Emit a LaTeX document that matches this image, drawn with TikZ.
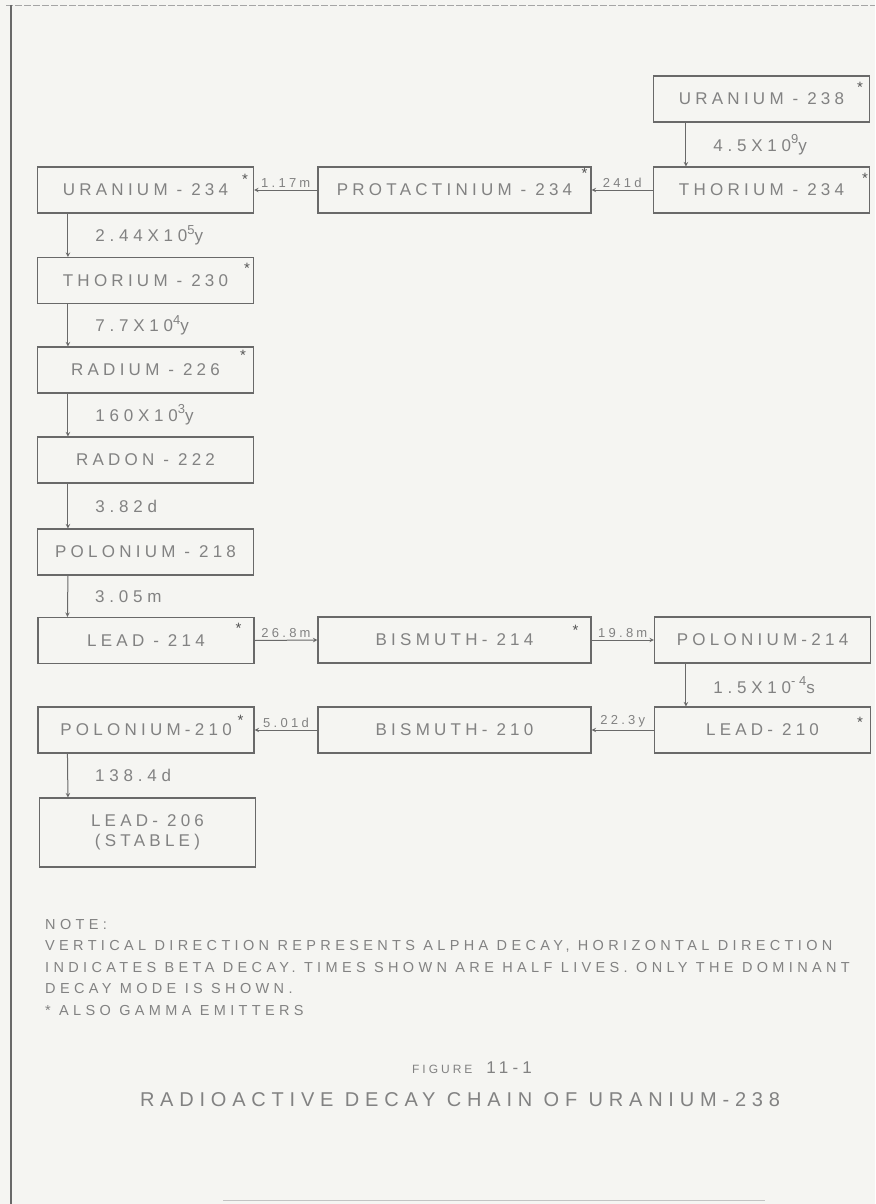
\documentclass[tikz,border=0pt]{standalone}
\usepackage{fontspec}
\setmainfont{Liberation Sans}
\newfontfamily\lettering{Liberation Sans}[LetterSpace=25]
\newcommand{\pw}[1]{\raisebox{0.45em}{\fontsize{13}{13}\selectfont #1}}
\definecolor{ink}{RGB}{105,105,105}
\definecolor{pencil}{RGB}{130,130,130}
\definecolor{paper}{RGB}{245,245,242}

\begin{document}
\begin{tikzpicture}[x=1pt, y=-1pt,
    box/.style={draw=ink, line width=1.1pt, inner sep=0pt, minimum width=216pt, minimum height=46pt,
      text=pencil, font=\lettering\fontsize{17}{20}\selectfont},
    wide/.style={minimum width=273pt},
    gam/.style={inner sep=0pt, text=ink!80!black, font=\lettering\fontsize{15}{15}\selectfont},
    decay/.style={-stealth, draw=ink, line width=1pt},
    half/.style={right=27pt, inner sep=0pt, text=pencil, font=\lettering\fontsize{17}{18}\selectfont\addfontfeature{LetterSpace=28}},
    rate/.style={above=2pt, inner sep=0pt, text=pencil, font=\lettering\fontsize{13}{14}\selectfont}]
                \fill[paper] (0,0) rectangle (875,1204);
                \useasboundingbox (0,0) rectangle (875,1204);
                \draw[ink!60, line width=0.8pt, dash pattern=on 7pt off 2pt] (6,5) -- (875,5);
                \draw[ink, line width=1.6pt] (11,5) -- (11,1204);
                \draw[ink!40, line width=0.8pt] (223,1200) -- (765,1200);

                \node[box] (u238) at (761.5,99) {URANIUM - 238};
                \node[box] (th234) at (761.5,190) {THORIUM - 234};
                \node[box, wide] (pa234) at (454.5,190) {PROTACTINIUM - 234};
                \node[box] (u234) at (145.5,190) {URANIUM - 234};
                \node[box] (th230) at (145.5,280.5) {THORIUM - 230};
                \node[box] (ra226) at (145.5,370) {RADIUM - 226};
                \node[box] (rn222) at (145.5,460) {RADON - 222};
                \node[box] (po218) at (145.5,552) {POLONIUM - 218};
                \node[box] (pb214) at (146,640.5) {LEAD - 214};
                \node[box, wide] (bi214) at (454.5,640) {BISMUTH- 214};
                \node[box] (po214) at (762.5,640) {POLONIUM-214};
                \node[box] (pb210) at (762.5,730) {LEAD- 210};
                \node[box, wide] (bi210) at (454.5,730) {BISMUTH- 210};
                \node[box] (po210) at (146,730) {POLONIUM-210};
                \node[box, minimum height=69pt, align=center] (pb206) at (147.5,832.5) {LEAD- 206\\(STABLE)};

                % gamma emitters
                \node[gam] (u238g) at ([xshift=-10pt,yshift=-12pt]u238.north east) {*};
                \node[gam] (th234g) at ([xshift=-5pt,yshift=-12pt]th234.north east) {*};
                \node[gam] (pa234g) at ([xshift=-7pt,yshift=-7pt]pa234.north east) {*};
                \node[gam] (u234g) at ([xshift=-9pt,yshift=-13pt]u234.north east) {*};
                \node[gam] (th230g) at ([xshift=-7pt,yshift=-11pt]th230.north east) {*};
                \node[gam] (ra226g) at ([xshift=-11pt,yshift=-9pt]ra226.north east) {*};
                \node[gam] (pb214g) at ([xshift=-16pt,yshift=-11pt]pb214.north east) {*};
                \node[gam] (bi214g) at ([xshift=-16pt,yshift=-14pt]bi214.north east) {*};
                \node[gam] (po210g) at ([xshift=-14pt,yshift=-14pt]po210.north east) {*};
                \node[gam] (pb210g) at ([xshift=-11pt,yshift=-16pt]pb210.north east) {*};

                % alpha decays
                \draw[decay] ([xshift=33pt]u238.south west) -- node[half] {4.5X10\pw{9}y} ([xshift=33pt]th234.north west);
                \draw[decay] ([xshift=31pt]u234.south west) -- node[half] {2.44X10\pw{5}y} ([xshift=31pt]th230.north west);
                \draw[decay] ([xshift=31pt]th230.south west) -- node[half] {7.7X10\pw{4}y} ([xshift=31pt]ra226.north west);
                \draw[decay] ([xshift=31pt]ra226.south west) -- node[half] {160X10\pw{3}y} ([xshift=31pt]rn222.north west);
                \draw[decay] ([xshift=31pt]rn222.south west) -- node[half] {3.82d} ([xshift=31pt]po218.north west);
                \draw[decay] ([xshift=31pt]po218.south west) -- node[half] {3.05m} ([xshift=30pt]pb214.north west);
                \draw[decay] ([xshift=32pt]po214.south west) -- node[half] {1.5X10\pw{-4}s} ([xshift=32pt]pb210.north west);
                \draw[decay] ([xshift=30pt]po210.south west) -- node[half] {138.4d} ([xshift=29pt]pb206.north west);

                % beta decays
                \draw[decay] (th234.west) -- node[rate] {241d} (pa234.east);
                \draw[decay] (pa234.west) -- node[rate] {1.17m} (u234.east);
                \draw[decay] (pb214.east) -- node[rate] {26.8m} (bi214.west);
                \draw[decay] (bi214.east) -- node[rate] {19.8m} (po214.west);
                \draw[decay] (pb210.west) -- node[rate] {22.3y} (bi210.east);
                \draw[decay] (bi210.west) -- node[rate] {5.01d} (po210.east);

                \node[anchor=north west, align=left, inner sep=0pt, text=pencil,
                      font=\lettering\fontsize{14.5}{21.5}\selectfont\addfontfeature{LetterSpace=30}] (note) at (45,919)
                      {NOTE:\\VERTICAL DIRECTION REPRESENTS ALPHA DECAY, HORIZONTAL DIRECTION\\INDICATES BETA DECAY. TIMES SHOWN ARE HALF LIVES. ONLY THE DOMINANT\\DECAY MODE IS SHOWN.\\* ALSO GAMMA EMITTERS};
                \node[text=pencil, inner sep=0pt, font=\lettering\fontsize{17}{18}\selectfont] (fig) at (472,1068)
                      {{\fontsize{12}{12}\selectfont FIGURE}\hspace{14pt}11-1};
                \node[text=pencil, inner sep=0pt, font=\lettering\fontsize{20}{21}\selectfont\addfontfeature{LetterSpace=29}] (title) at (460,1100)
                      {RADIOACTIVE DECAY CHAIN OF URANIUM-238};
            \end{tikzpicture}
\end{document}
